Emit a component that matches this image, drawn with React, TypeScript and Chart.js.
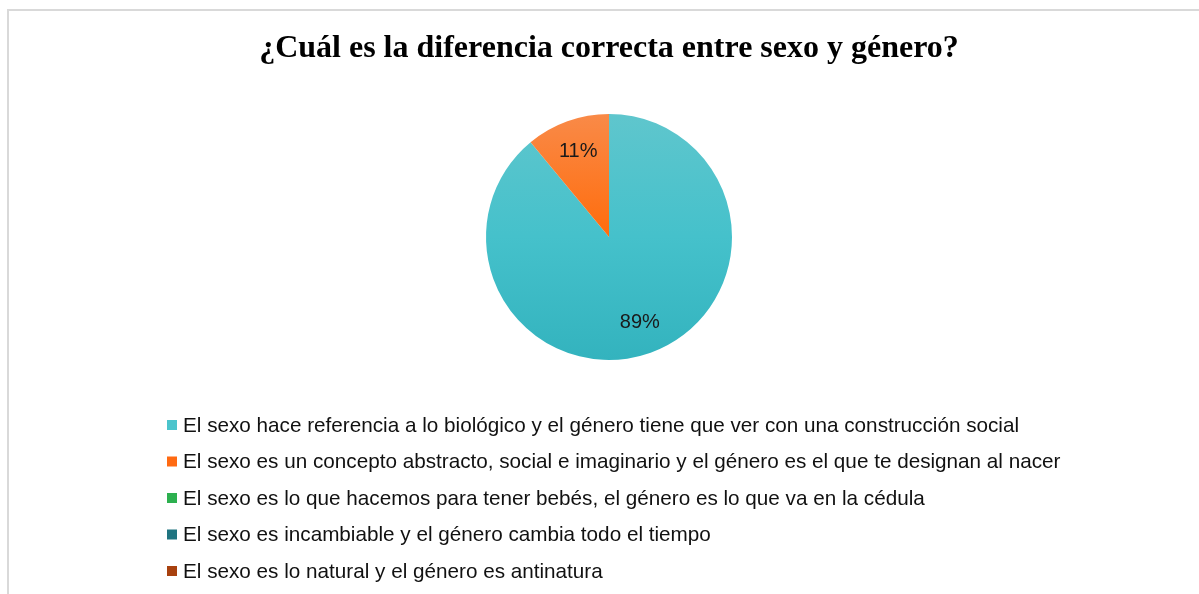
import React, { useEffect, useRef } from "react";
import { Chart, registerables } from "chart.js";

Chart.register(...registerables);

const TITLE = "¿Cuál es la diferencia correcta entre sexo y género?";
const categories = [
  "El sexo hace referencia a lo biológico y el género tiene que ver con una construcción social",
  "El sexo es un concepto abstracto, social e imaginario y el género es el que te designan al nacer",
  "El sexo es lo que hacemos para tener bebés, el género es lo que va en la cédula",
  "El sexo es incambiable y el género cambia todo el tiempo",
  "El sexo es lo natural y el género es antinatura",
];
const values = [89, 11, 0, 0, 0];
const legendColors = ["#4BC4CC", "#FF6A12", "#2DB04F", "#1F7480", "#A8410F"];
const gradientStops: [string, string, string][] = [
  ["#5FC6CD", "#45C1CB", "#33B3BE"],
  ["#F98A48", "#FF6C0C", "#E65F00"],
  ["#3CC05E", "#2DB04F", "#239A42"],
  ["#2A8894", "#1F7480", "#17626C"],
  ["#BD5020", "#A8410F", "#8E360A"],
];

const SANS = "'Liberation Sans', Arial, sans-serif";
const SERIF = "'Liberation Serif', 'Times New Roman', serif";

const labelPlugin = {
  id: "sliceLabels",
  afterDatasetsDraw(chart: any) {
    const ctx = chart.ctx;
    const meta = chart.getDatasetMeta(0);
    const data = chart.data.datasets[0].data as number[];
    const total = data.reduce((a, b) => a + b, 0);
    ctx.save();
    ctx.font = `20px ${SANS}`;
    ctx.fillStyle = "#1a1a1a";
    ctx.textAlign = "center";
    ctx.textBaseline = "middle";
    meta.data.forEach((arc: any, i: number) => {
      const v = data[i];
      if (!v) return;
      const p = arc.getProps(["x", "y", "startAngle", "endAngle", "outerRadius"], true);
      const mid = (p.startAngle + p.endAngle) / 2;
      const r = p.outerRadius * 0.74;
      ctx.fillText(Math.round((v / total) * 100) + "%", p.x + Math.cos(mid) * r, p.y + Math.sin(mid) * r);
    });
    ctx.restore();
  },
};

const legendPlugin = {
  id: "vertLegend",
  afterDraw(chart: any) {
    const ctx = chart.ctx;
    const labels = chart.data.labels as string[];
    const x0 = 167;
    const y0 = 425;
    const step = 36.5;
    ctx.save();
    ctx.font = `20.7px ${SANS}`;
    ctx.textBaseline = "middle";
    ctx.textAlign = "left";
    labels.forEach((t, i) => {
      const y = y0 + i * step;
      ctx.fillStyle = legendColors[i];
      ctx.fillRect(x0, y - 5, 10, 10);
      ctx.fillStyle = "#111";
      ctx.fillText(t, x0 + 16, y + 1);
    });
    ctx.restore();
  },
};

export default function App() {
  const ref = useRef<HTMLCanvasElement | null>(null);
  useEffect(() => {
    if (!ref.current) return;
    const chart = new Chart(ref.current, {
      type: "pie",
      data: {
        labels: categories,
        datasets: [
          {
            data: values,
            borderWidth: 0,
            backgroundColor: (c: any) => {
              const ch = c.chart;
              const area = ch.chartArea;
              if (!area) return legendColors[c.dataIndex];
              const g = ch.ctx.createLinearGradient(0, area.top, 0, area.bottom);
              const s = gradientStops[c.dataIndex];
              g.addColorStop(0, s[0]);
              g.addColorStop(0.5, s[1]);
              g.addColorStop(1, s[2]);
              return g;
            },
          },
        ],
      },
      options: {
        responsive: false,
        animation: false,
        layout: { padding: { top: 0, bottom: 234, left: 19, right: 0 } },
        plugins: {
          legend: { display: false },
          tooltip: { enabled: false },
          title: {
            display: true,
            text: TITLE,
            color: "#000",
            font: { family: SERIF, size: 32, weight: "bold" },
            padding: { top: 29.8, bottom: 45.8 },
          },
        },
      },
      plugins: [labelPlugin, legendPlugin],
    });
    return () => chart.destroy();
  }, []);
  return (
    <div
      style={{
        position: "fixed",
        left: 0,
        top: 0,
        width: 1199,
        height: 594,
        overflow: "hidden",
        background: "#fff",
      }}
    >
      <div
        style={{
          position: "absolute",
          left: 7,
          top: 9,
          width: 1400,
          height: 800,
          borderLeft: "2px solid #d9d9d9",
          borderTop: "2px solid #d9d9d9",
        }}
      />
      <canvas ref={ref} width={1199} height={594} style={{ position: "absolute", left: 0, top: 0 }} />
    </div>
  );
}
